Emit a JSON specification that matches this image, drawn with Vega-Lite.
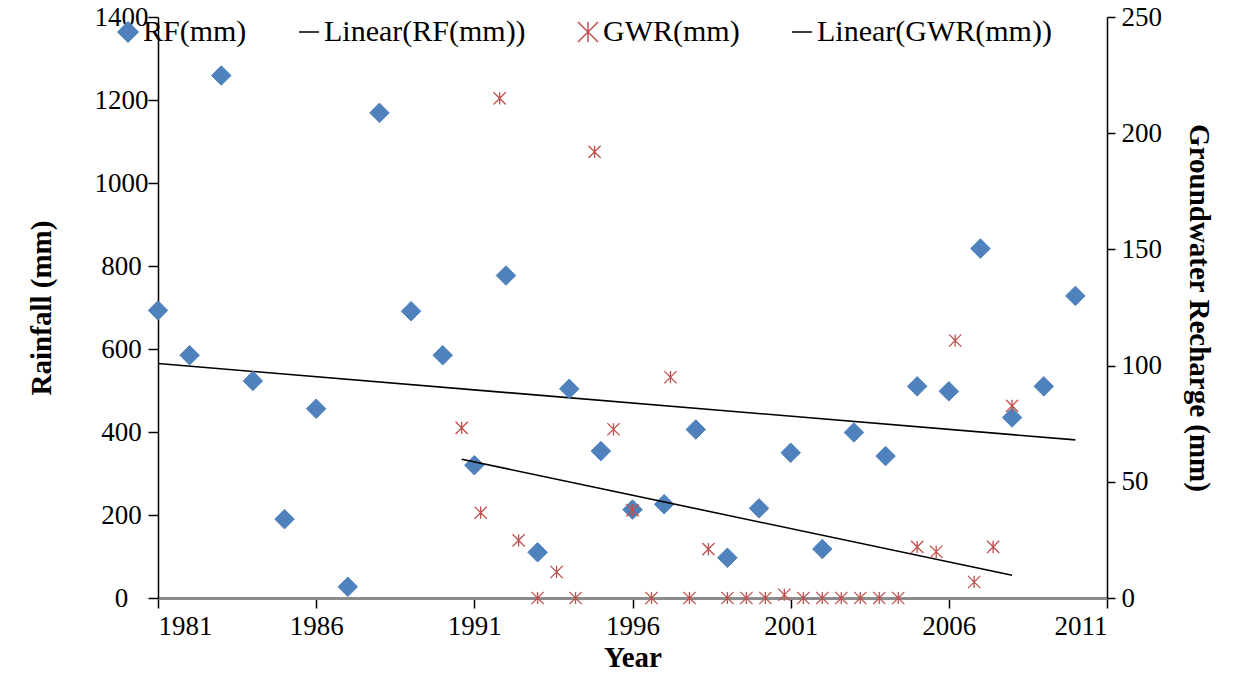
{
  "$schema": "https://vega.github.io/schema/vega-lite/v6.json",
  "width": 949,
  "height": 581,
  "autosize": {"type": "none"},
  "padding": {"left": 158, "top": 17, "right": 146, "bottom": 91},
  "background": "white",
  "config": {
    "view": {"stroke": null},
    "font": "Liberation Serif",
    "axis": {
      "labelFont": "Liberation Serif",
      "labelFontSize": 27,
      "labelColor": "#000",
      "titleFont": "Liberation Serif",
      "titleFontSize": 29,
      "titleFontWeight": "bold",
      "titleColor": "#000",
      "grid": false,
      "tickColor": "#000",
      "tickSize": 8,
      "tickWidth": 1.5,
      "domainColor": "#000",
      "domainWidth": 1.5,
      "labelPadding": 3
    },
    "legend": {
      "labelFont": "Liberation Serif",
      "labelFontSize": 30,
      "labelColor": "#000",
      "labelLimit": 0,
      "padding": 0
    }
  },
  "datasets": {
    "rf": [
      {"year": 1981, "value": 693, "series": "RF(mm)"},
      {"year": 1982, "value": 585, "series": "RF(mm)"},
      {"year": 1983, "value": 1259, "series": "RF(mm)"},
      {"year": 1984, "value": 523, "series": "RF(mm)"},
      {"year": 1985, "value": 190, "series": "RF(mm)"},
      {"year": 1986, "value": 456, "series": "RF(mm)"},
      {"year": 1987, "value": 27, "series": "RF(mm)"},
      {"year": 1988, "value": 1169, "series": "RF(mm)"},
      {"year": 1989, "value": 691, "series": "RF(mm)"},
      {"year": 1990, "value": 585, "series": "RF(mm)"},
      {"year": 1991, "value": 320, "series": "RF(mm)"},
      {"year": 1992, "value": 777, "series": "RF(mm)"},
      {"year": 1993, "value": 110, "series": "RF(mm)"},
      {"year": 1994, "value": 504, "series": "RF(mm)"},
      {"year": 1995, "value": 354, "series": "RF(mm)"},
      {"year": 1996, "value": 213, "series": "RF(mm)"},
      {"year": 1997, "value": 226, "series": "RF(mm)"},
      {"year": 1998, "value": 406, "series": "RF(mm)"},
      {"year": 1999, "value": 97, "series": "RF(mm)"},
      {"year": 2000, "value": 216, "series": "RF(mm)"},
      {"year": 2001, "value": 350, "series": "RF(mm)"},
      {"year": 2002, "value": 118, "series": "RF(mm)"},
      {"year": 2003, "value": 399, "series": "RF(mm)"},
      {"year": 2004, "value": 342, "series": "RF(mm)"},
      {"year": 2005, "value": 510, "series": "RF(mm)"},
      {"year": 2006, "value": 498, "series": "RF(mm)"},
      {"year": 2007, "value": 842, "series": "RF(mm)"},
      {"year": 2008, "value": 435, "series": "RF(mm)"},
      {"year": 2009, "value": 510, "series": "RF(mm)"},
      {"year": 2010, "value": 728, "series": "RF(mm)"}
    ],
    "gwr": [
      {"year": 1990.6, "value": 73.2, "series": "GWR(mm)"},
      {"year": 1991.2, "value": 36.7, "series": "GWR(mm)"},
      {"year": 1991.8, "value": 215, "series": "GWR(mm)"},
      {"year": 1992.4, "value": 24.8, "series": "GWR(mm)"},
      {"year": 1993.0, "value": 0, "series": "GWR(mm)"},
      {"year": 1993.6, "value": 11.2, "series": "GWR(mm)"},
      {"year": 1994.2, "value": 0, "series": "GWR(mm)"},
      {"year": 1994.8, "value": 192, "series": "GWR(mm)"},
      {"year": 1995.4, "value": 72.6, "series": "GWR(mm)"},
      {"year": 1996.0, "value": 37.8, "series": "GWR(mm)"},
      {"year": 1996.6, "value": 0, "series": "GWR(mm)"},
      {"year": 1997.2, "value": 95, "series": "GWR(mm)"},
      {"year": 1997.8, "value": 0, "series": "GWR(mm)"},
      {"year": 1998.4, "value": 21, "series": "GWR(mm)"},
      {"year": 1999.0, "value": 0, "series": "GWR(mm)"},
      {"year": 1999.6, "value": 0, "series": "GWR(mm)"},
      {"year": 2000.2, "value": 0, "series": "GWR(mm)"},
      {"year": 2000.8, "value": 1.4, "series": "GWR(mm)"},
      {"year": 2001.4, "value": 0, "series": "GWR(mm)"},
      {"year": 2002.0, "value": 0, "series": "GWR(mm)"},
      {"year": 2002.6, "value": 0, "series": "GWR(mm)"},
      {"year": 2003.2, "value": 0, "series": "GWR(mm)"},
      {"year": 2003.8, "value": 0, "series": "GWR(mm)"},
      {"year": 2004.4, "value": 0, "series": "GWR(mm)"},
      {"year": 2005.0, "value": 22, "series": "GWR(mm)"},
      {"year": 2005.6, "value": 19.9, "series": "GWR(mm)"},
      {"year": 2006.2, "value": 110.8, "series": "GWR(mm)"},
      {"year": 2006.8, "value": 6.9, "series": "GWR(mm)"},
      {"year": 2007.4, "value": 22, "series": "GWR(mm)"},
      {"year": 2008.0, "value": 82.7, "series": "GWR(mm)"}
    ],
    "trend_rf": [
      {"year": 1981, "value": 565, "series": "Linear(RF(mm))"},
      {"year": 2010, "value": 381, "series": "Linear(RF(mm))"}
    ],
    "trend_gwr": [
      {"year": 1990.6, "value": 59.7, "series": "Linear(GWR(mm))"},
      {"year": 2008.0, "value": 9.8, "series": "Linear(GWR(mm))"}
    ]
  },
  "layer": [
    {
      "layer": [
        {
          "data": {"name": "trend_rf"},
          "mark": {"type": "line", "strokeWidth": 1.6},
          "encoding": {
            "x": {"field": "year", "type": "quantitative", "scale": {"domain": [1981, 2011], "nice": false, "zero": false},
              "axis": {"title": "Year", "values": [1981, 1986, 1991, 1996, 2001, 2006, 2011], "format": "d", "domainColor": "#8c8c8c", "domainWidth": 3, "tickSize": 10, "labelPadding": 5, "titlePadding": 4}},
            "y": {"field": "value", "type": "quantitative", "scale": {"domain": [0, 1400], "nice": false},
              "axis": {"orient": "left", "title": "Rainfall (mm)", "format": "d", "values": [0, 200, 400, 600, 800, 1000, 1200, 1400], "tickSize": 10, "labelAlign": "center", "labelPadding": 27, "titlePadding": 38}},
            "stroke": {"field": "series", "type": "nominal",
              "scale": {"domain": ["RF(mm)", "Linear(RF(mm))", "GWR(mm)", "Linear(GWR(mm))"], "range": ["#4F81BD", "#000000", "#C0504D", "#000000"]},
              "legend": {"title": null, "orient": "none", "direction": "horizontal", "legendX": -45, "legendY": 0, "columnPadding": 47, "labelOffset": 0, "symbolSize": 400, "symbolStrokeWidth": 1.5}}
          }
        },
        {
          "data": {"name": "rf"},
          "mark": {"type": "point", "size": 380, "opacity": 1, "strokeWidth": 1},
          "encoding": {
            "x": {"field": "year", "type": "quantitative"},
            "y": {"field": "value", "type": "quantitative"},
            "stroke": {"field": "series", "type": "nominal"},
            "fill": {"field": "series", "type": "nominal",
              "scale": {"domain": ["RF(mm)", "Linear(RF(mm))", "GWR(mm)", "Linear(GWR(mm))"], "range": ["#4F81BD", "transparent", "transparent", "transparent"]}},
            "shape": {"field": "series", "type": "nominal",
              "scale": {"domain": ["RF(mm)", "Linear(RF(mm))", "GWR(mm)", "Linear(GWR(mm))"], "range": ["diamond", "stroke", "M-1,-1L1,1M-1,1L1,-1M0,-1L0,1", "stroke"]}}
          }
        }
      ]
    },
    {
      "layer": [
        {
          "data": {"name": "trend_gwr"},
          "mark": {"type": "line", "strokeWidth": 1.6},
          "encoding": {
            "x": {"field": "year", "type": "quantitative"},
            "y": {"field": "value", "type": "quantitative", "scale": {"domain": [0, 250], "nice": false},
              "axis": {"orient": "right", "title": "Groundwater Recharge (mm)", "values": [0, 50, 100, 150, 200, 250], "tickSize": 8, "labelPadding": 6, "titlePadding": 22}},
            "stroke": {"field": "series", "type": "nominal"}
          }
        },
        {
          "data": {"name": "gwr"},
          "mark": {"type": "point", "size": 150, "opacity": 1, "strokeWidth": 1.3},
          "encoding": {
            "x": {"field": "year", "type": "quantitative"},
            "y": {"field": "value", "type": "quantitative"},
            "stroke": {"field": "series", "type": "nominal"},
            "fill": {"field": "series", "type": "nominal"},
            "shape": {"field": "series", "type": "nominal"}
          }
        }
      ]
    }
  ],
  "resolve": {"scale": {"y": "independent"}}
}
